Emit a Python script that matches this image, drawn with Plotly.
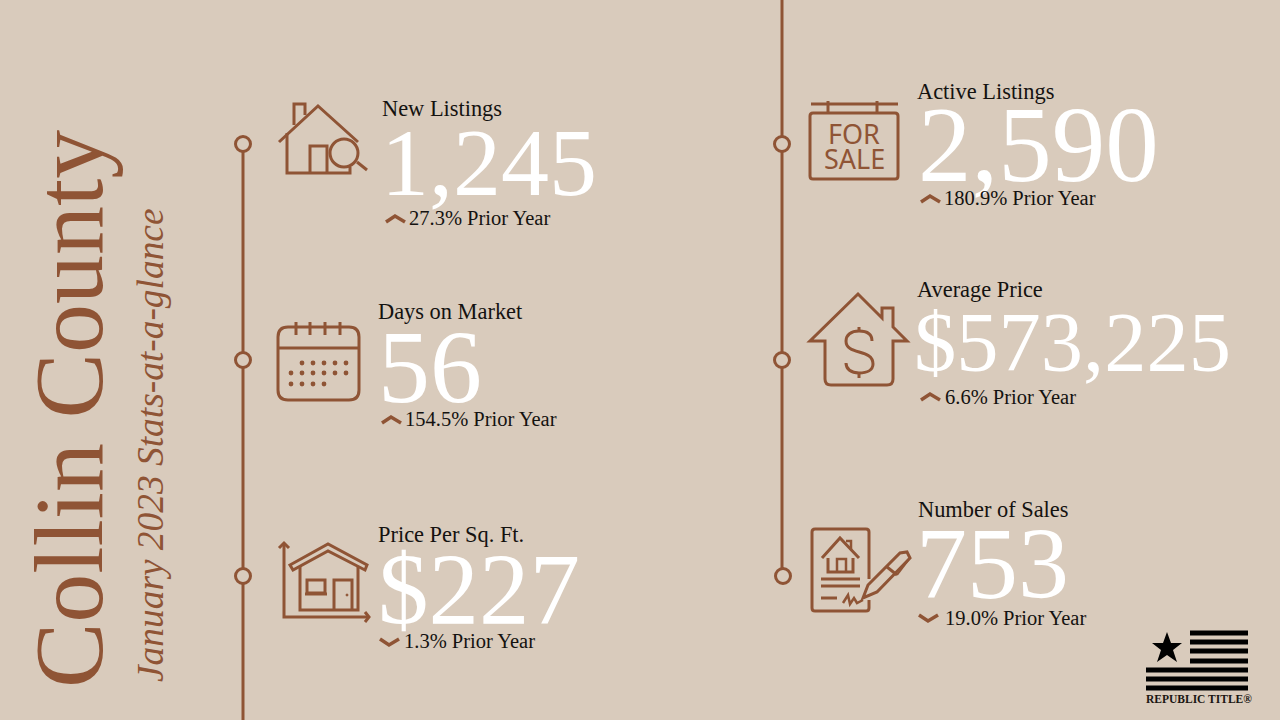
import plotly.graph_objects as go

# chart data
county = "Collin County"
subtitle = "January 2023 Stats-at-a-glance"
metric_labels = ["New Listings", "Days on Market", "Price Per Sq. Ft.",
                 "Active Listings", "Average Price", "Number of Sales"]
metric_values = [1245, 56, 227, 2590, 573225, 753]
value_prefix = ["", "", "$", "", "$", ""]
change_pct = [27.3, 154.5, 1.3, 180.9, 6.6, 19.0]
change_up = [True, True, False, True, True, False]

# page layout, one row per metric
label_pos = [(382, 108), (378, 311), (378, 534), (917, 91), (917, 289), (918, 509)]
value_pos = [(381, 162), (378, 366), (378, 590), (918, 145), (914, 342), (916, 563)]
value_size = [96, 104, 101, 107, 84.5, 102]
chevron_pos = [(386, 219), (382, 420), (380, 642), (921, 199), (921, 397), (919, 618)]
change_pos = [(409, 218), (405, 419), (404, 641), (944, 198), (945, 397), (945, 618)]
pin_x = [243, 243, 243, 782, 782, 783]
pin_y = [144, 360, 576, 144, 360, 576]

BG = "#d9cbbc"
BROWN = "#8f5435"
INK = "#141210"
SERIF = "Liberation Serif"

shapes = []
annotations = []


def stroke(pts, width=3, closed=False, fill=None, color=BROWN):
    d = "M" + " L".join(f"{x},{y}" for x, y in pts) + (" Z" if closed else "")
    shapes.append(dict(type="path", path=d, line=dict(color=color, width=width),
                       fillcolor=fill or "rgba(0,0,0,0)", layer="above"))


def curve(d, width=3):
    shapes.append(dict(type="path", path=d, line=dict(color=BROWN, width=width),
                       fillcolor="rgba(0,0,0,0)", layer="above"))


def round_rect(x0, y0, x1, y1, r, width=3):
    curve(f"M{x0+r},{y0} L{x1-r},{y0} Q{x1},{y0} {x1},{y0+r} L{x1},{y1-r} Q{x1},{y1} {x1-r},{y1} "
          f"L{x0+r},{y1} Q{x0},{y1} {x0},{y1-r} L{x0},{y0+r} Q{x0},{y0} {x0+r},{y0} Z", width)


def circle(cx, cy, r, width=3, fill=None, color=BROWN):
    shapes.append(dict(type="circle", x0=cx-r, x1=cx+r, y0=cy-r, y1=cy+r,
                       line=dict(color=color, width=width),
                       fillcolor=fill or "rgba(0,0,0,0)", layer="above"))


def bar(x0, x1, y, h, color="#000000"):
    shapes.append(dict(type="rect", x0=x0, x1=x1, y0=y-h/2, y1=y+h/2,
                       line=dict(width=0), fillcolor=color, layer="above"))


def text(x, y, s, size, color=INK, family=SERIF, xanchor="left", angle=0, style="normal", weight="normal"):
    annotations.append(dict(x=x, y=y, xref="x", yref="y", text=s, showarrow=False,
                            xanchor=xanchor, yanchor="middle", textangle=angle,
                            borderpad=0, borderwidth=0,
                            font=dict(family=family, size=size, color=color, style=style, weight=weight)))


def icon_search_house():
    stroke([(279, 142), (318, 106), (358, 142)])
    stroke([(294, 125), (294, 104), (305, 104), (305, 115)])
    stroke([(287, 133), (287, 173), (350, 173), (350, 167)])
    stroke([(310, 173), (310, 146), (327, 146), (327, 173)])
    circle(344, 153, 14)
    stroke([(357, 162), (367, 170)])


def icon_calendar():
    round_rect(278, 327, 359, 400, 10)
    stroke([(278, 348), (359, 348)])
    for x in [296, 310, 325, 340]:
        stroke([(x, 322), (x, 335)])
    rows = [(363, [302, 313, 324, 335, 346]),
            (373, [291, 302, 313, 324, 335, 346]),
            (384, [291, 302, 313, 324])]
    for y, xs in rows:
        for x in xs:
            circle(x, y, 2.4, width=0, fill=BROWN)


def icon_price_house():
    stroke([(284, 543), (284, 617), (369, 617)])
    stroke([(279, 548), (284, 543), (289, 548)])
    stroke([(365, 612), (369, 617), (365, 622)])
    stroke([(290, 565), (328, 544), (367, 565), (365, 570), (328, 551), (293, 570)], closed=True)
    stroke([(300, 566), (300, 610), (358, 610), (358, 566)])
    stroke([(307, 580), (325, 580), (325, 593), (307, 593)], closed=True)
    stroke([(305, 594), (327, 594)])
    stroke([(334, 610), (334, 580), (352, 580), (352, 610)])
    circle(347, 595, 1, width=1, fill=BROWN)


def icon_for_sale():
    stroke([(811, 104), (898, 104)])
    stroke([(828, 101), (828, 113)])
    stroke([(877, 101), (877, 113)])
    round_rect(810, 113, 898, 179, 3)
    text(854, 133, "FOR", 27, color=BROWN, family="Noto Sans", xanchor="center")
    text(854, 158, "SALE", 27, color=BROWN, family="Noto Sans", xanchor="center")


def icon_price_tag_house():
    curve("M858,294 L810,341 L825,341 L825,379 Q825,385 831,385 L887,385 Q893,385 893,379 "
          "L893,341 L907,341 L893,327 L893,308 L882,308 L882,318 Z")
    curve("M872,341 C872,333 866,331 859,331 C851,331 846,335 846,341 C846,356 873,348 873,364 "
          "C873,370 867,373 859,373 C851,373 846,369 846,363")
    stroke([(859, 327), (859, 331)])
    stroke([(859, 373), (859, 378)])


def icon_contract():
    curve("M869,579 L869,532 Q869,529 866,529 L815,529 Q812,529 812,532 L812,608 Q812,611 815,611 "
          "L866,611 Q869,611 869,608 L869,600")
    stroke([(822, 558), (840, 538), (859, 558)])
    stroke([(851, 549), (851, 541), (846, 541)], width=2.5)
    stroke([(828, 558), (828, 572), (853, 572), (853, 558)])
    stroke([(837, 572), (837, 559), (846, 559), (846, 572)], width=2.5)
    stroke([(821, 579), (860, 579)])
    stroke([(821, 586), (860, 586)])
    stroke([(821, 598), (837, 598)])
    stroke([(843, 603), (848, 595), (850, 604), (854, 598), (857, 603), (863, 600)], width=2.5)
    stroke([(863, 598), (868, 585), (900, 553), (907, 552), (910, 558), (877, 592)], closed=True)
    stroke([(887, 567), (897, 575)])
    stroke([(910, 558), (897, 575)], width=2)


def logo():
    star = [(1167, 632), (1171, 643), (1182, 643), (1173, 650), (1177, 662),
            (1167, 655), (1157, 662), (1161, 650), (1152, 643), (1163, 643)]
    stroke(star, width=0, closed=True, fill="#000000", color="#000000")
    for y in [633, 642, 651, 661]:
        bar(1190, 1248, y, 5)
    for y in [670, 679, 688]:
        bar(1146, 1248, y, 5)
    text(1146, 699, "REPUBLIC TITLE®", 11.5, color="#1a1512", weight="bold")


# the two timelines with their pins
for (x0, y0, y1) in [(243, 152, 352), (243, 368, 568), (243, 584, 720),
                     (782, 0, 136), (782, 152, 352), (782, 368, 568)]:
    stroke([(x0, y0), (x0, y1)])
for x, y in zip(pin_x, pin_y):
    circle(x, y, 7.5)

icon_search_house()
icon_calendar()
icon_price_house()
icon_for_sale()
icon_price_tag_house()
icon_contract()
logo()

# rotated titles
text(69, 409, county, 98, color=BROWN, xanchor="center", angle=-90)
text(150, 445, subtitle, 37.4, color=BROWN, xanchor="center", angle=-90, style="italic")

# metric blocks
for i, label in enumerate(metric_labels):
    text(label_pos[i][0], label_pos[i][1], label, 22.4)
    text(value_pos[i][0], value_pos[i][1], f"{value_prefix[i]}{metric_values[i]:,}",
         value_size[i], color="#ffffff")
    cx, cy = chevron_pos[i]
    if change_up[i]:
        stroke([(cx, cy + 3), (cx + 9, cy - 3), (cx + 19, cy + 3)], width=3.5)
    else:
        stroke([(cx, cy - 3), (cx + 9, cy + 3), (cx + 19, cy - 3)], width=3.5)
    text(change_pos[i][0], change_pos[i][1], f"{change_pct[i]:.1f}% Prior Year", 20.5)

fig = go.Figure()
fig.update_layout(
    width=1280, height=720,
    margin=dict(l=0, r=0, t=0, b=0),
    paper_bgcolor=BG, plot_bgcolor=BG,
    xaxis=dict(range=[0, 1280], visible=False, fixedrange=True),
    yaxis=dict(range=[720, 0], visible=False, fixedrange=True),
    shapes=shapes, annotations=annotations, showlegend=False,
)

fig.write_html("out.html", config=dict(displayModeBar=False),
               post_script="document.body.style.margin='0';")
